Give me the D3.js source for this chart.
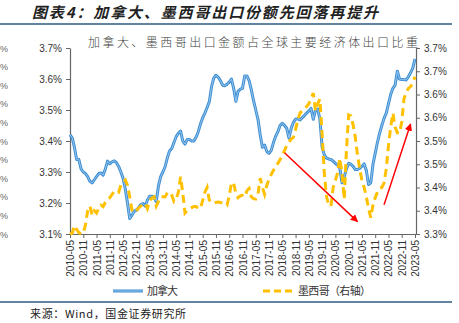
<!DOCTYPE html>
<html><head><meta charset="utf-8">
<script src="https://cdn.jsdelivr.net/npm/d3@7"></script>
<style>
html,body{margin:0;padding:0;background:#fff;}
svg{display:block;font-family:Arial,"Liberation Sans",sans-serif;}
.cjk{font-family:"Noto Sans CJK SC",sans-serif;}
</style></head><body>
<svg id="c" width="459" height="323"></svg>
<script>
// ---- data ----
const startYear = 2010, startMonth = 5, nMonths = 157;
const months = d3.range(nMonths).map(i => {
  const m = startMonth - 1 + i;
  return (startYear + Math.floor(m / 12)) + "-" + String(m % 12 + 1).padStart(2, "0");
});
const canada = [3.42,3.41,3.38,3.34,3.34,3.31,3.30,3.295,3.285,3.27,
3.265,3.275,3.285,3.295,3.297,3.29,3.31,3.335,3.326,3.333,
3.336,3.33,3.318,3.30,3.28,3.245,3.20,3.15,3.16,3.173,
3.177,3.185,3.195,3.198,3.19,3.21,3.222,3.222,3.219,3.205,
3.255,3.285,3.30,3.317,3.345,3.368,3.376,3.395,3.414,3.425,
3.432,3.40,3.39,3.405,3.405,3.40,3.40,3.412,3.43,3.455,
3.475,3.49,3.508,3.527,3.575,3.603,3.612,3.606,3.595,3.58,
3.578,3.583,3.59,3.60,3.57,3.528,3.56,3.567,3.57,3.61,
3.61,3.595,3.565,3.53,3.50,3.47,3.42,3.38,3.387,3.366,
3.36,3.37,3.395,3.415,3.43,3.45,3.457,3.45,3.441,3.41,
3.44,3.46,3.47,3.472,3.468,3.475,3.482,3.49,3.497,3.505,
3.47,3.50,3.503,3.47,3.38,3.355,3.345,3.342,3.34,3.335,
3.328,3.322,3.313,3.265,3.285,3.31,3.328,3.325,3.318,3.308,
3.308,3.312,3.318,3.326,3.305,3.26,3.265,3.325,3.36,3.395,
3.425,3.45,3.473,3.49,3.52,3.55,3.57,3.58,3.625,3.60,
3.598,3.598,3.597,3.607,3.62,3.635,3.665];
const mexico = [3.30,3.302,3.318,3.31,3.303,3.30,3.302,3.32,3.35,3.36,
3.34,3.35,3.345,3.355,3.362,3.359,3.368,3.375,3.378,3.385,
3.392,3.392,3.39,3.405,3.412,3.416,3.405,3.38,3.352,3.346,
3.35,3.356,3.36,3.363,3.366,3.355,3.372,3.377,3.38,3.36,
3.37,3.38,3.38,3.38,3.388,3.39,3.384,3.37,3.375,3.39,
3.423,3.388,3.345,3.35,3.354,3.357,3.359,3.359,3.355,3.355,
3.372,3.39,3.40,3.373,3.368,3.366,3.368,3.369,3.368,3.366,
3.364,3.362,3.382,3.41,3.41,3.386,3.378,3.382,3.383,3.38,
3.393,3.398,3.38,3.376,3.375,3.386,3.42,3.40,3.385,3.405,
3.418,3.428,3.437,3.445,3.452,3.46,3.468,3.48,3.49,3.498,
3.504,3.508,3.525,3.545,3.56,3.565,3.569,3.574,3.58,3.59,
3.603,3.565,3.58,3.59,3.515,3.43,3.38,3.362,3.36,3.40,
3.415,3.432,3.463,3.43,3.375,3.48,3.556,3.554,3.535,3.508,
3.47,3.44,3.415,3.40,3.38,3.355,3.335,3.362,3.378,3.39,
3.398,3.40,3.41,3.44,3.49,3.53,3.56,3.53,3.518,3.517,
3.541,3.59,3.605,3.613,3.617,3.625,3.638];
const leftTicks = [3.1,3.2,3.3,3.4,3.5,3.6,3.7];
const rightTicks = [3.30,3.35,3.40,3.45,3.50,3.55,3.60,3.65,3.70];
const rightTickLabels = ["3.3%","3.4%","3.4%","3.5%","3.5%","3.6%","3.6%","3.7%","3.7%"];
const xTickMonths = months.filter((m, i) => i % 6 === 0);
// arrows: [fromMonth, fromValue(left axis), toMonth, toValue]
const arrows = [["2018-06",3.362,"2021-03",3.14],["2022-03",3.194,"2023-03",3.455]];
const title = "图表4：加拿大、墨西哥出口份额先回落再提升";
const chartTitle = "加拿大、墨西哥出口金额占全球主要经济体出口比重";
const source = "来源：Wind，国金证券研究所";
const legendNames = ["加拿大","墨西哥（右轴）"];
const cutLabels = d3.range(11);

// ---- drawing ----
const svg = d3.select("#c");
const x = d3.scalePoint().domain(months).range([70, 415]);
const yL = d3.scaleLinear().domain([3.1, 3.7]).range([234, 48]);
const yR = d3.scaleLinear().domain([3.3, 3.7]).range([234, 48]);
const cutY = d3.scaleLinear().domain([0, 10]).range([48, 234]);

// remnants of a cut-off axis on the far left
svg.append("g").selectAll("text").data(cutLabels).join("text")
  .attr("x", 0).attr("y", d => cutY(d) + 3.5).attr("text-anchor","start")
  .attr("font-size", 9).attr("fill", "#666").text("%");

// header
svg.append("text").attr("class","cjk").attr("x", 32).attr("y", 18)
  .attr("font-size", 15).attr("font-weight", "bold").attr("font-style","italic")
  .attr("fill", "#222").attr("textLength", 346).attr("lengthAdjust","spacing").text(title);
svg.append("line").attr("x1",0).attr("x2",452).attr("y1",24).attr("y2",24)
  .attr("stroke","#2E5B84").attr("stroke-width",1.5);
svg.append("text").attr("class","cjk").attr("x", 88).attr("y", 47)
  .attr("font-size", 12).attr("font-weight", 300).attr("fill", "#444")
  .attr("textLength", 330).attr("lengthAdjust","spacing").text(chartTitle);

// axes
const fmt = d3.format(".1%");
const gL = svg.append("g").attr("transform","translate(70,0)")
  .call(d3.axisLeft(yL).tickValues(leftTicks).tickFormat(d => fmt(d/100)).tickSize(4).tickSizeOuter(0));
const gR = svg.append("g").attr("transform","translate(416,0)")
  .call(d3.axisRight(yR).tickValues(rightTicks).tickFormat((d,i) => rightTickLabels[i]).tickSize(4).tickSizeOuter(0));
const gB = svg.append("g").attr("transform","translate(0,234)")
  .call(d3.axisBottom(x).tickValues(xTickMonths).tickSize(4).tickSizeOuter(0));
gB.select(".domain").attr("d", "M70,0.5H416");
[gL, gR, gB].forEach(g => {
  g.select(".domain").attr("stroke","#666").attr("stroke-width",1.2);
  g.selectAll(".tick line").attr("stroke","#666");
  g.selectAll(".tick text").attr("font-size",10).attr("fill","#333").attr("font-family","Arial, 'Liberation Sans', sans-serif");
});
gL.selectAll(".tick text").attr("x",-8);
gR.selectAll(".tick text").attr("x",8);
gB.selectAll(".tick text").attr("transform","rotate(-90)").attr("text-anchor","end")
  .attr("x",-6).attr("y",0).attr("dy","0.35em");

// lines
const lineL = d3.line().x((d,i) => x(months[i])).y(d => yL(d)).curve(d3.curveLinear);
const lineR = d3.line().x((d,i) => x(months[i])).y(d => yR(d)).curve(d3.curveLinear);
svg.append("path").datum(canada).attr("d", lineL).attr("fill","none")
  .attr("stroke","#3F8FD2").attr("stroke-width",3).attr("stroke-linejoin","round");
svg.append("path").datum(canada).attr("d", lineL).attr("fill","none")
  .attr("stroke","#9DCBF0").attr("stroke-width",0.9).attr("stroke-linejoin","round");
svg.append("path").datum(mexico).attr("d", lineR).attr("fill","none")
  .attr("stroke","#FFC000").attr("stroke-width",3).attr("stroke-dasharray","8,5");

// arrows
const defs = svg.append("defs");
defs.append("marker").attr("id","ah").attr("viewBox","0 0 10 10").attr("refX",9).attr("refY",5)
  .attr("markerWidth",5).attr("markerHeight",5).attr("orient","auto")
  .append("path").attr("d","M0,0L10,5L0,10z").attr("fill","#FF0000");
svg.append("g").selectAll("line").data(arrows).join("line")
  .attr("x1", d => x(d[0])).attr("y1", d => yL(d[1]))
  .attr("x2", d => x(d[2])).attr("y2", d => yL(d[3]))
  .attr("stroke","#FF0000").attr("stroke-width",1.5).attr("marker-end","url(#ah)");

// legend
const lg = svg.append("g");
lg.append("line").attr("x1",113).attr("x2",143).attr("y1",291).attr("y2",291)
  .attr("stroke","#3F8FD2").attr("stroke-width",3);
lg.append("line").attr("x1",113).attr("x2",143).attr("y1",291).attr("y2",291)
  .attr("stroke","#9DCBF0").attr("stroke-width",0.9);
lg.append("text").attr("class","cjk").attr("x",147).attr("y",295).attr("font-size",11).attr("fill","#333")
  .attr("textLength",31).attr("lengthAdjust","spacing").text(legendNames[0]);
lg.append("line").attr("x1",263).attr("x2",292).attr("y1",291).attr("y2",291)
  .attr("stroke","#FFC000").attr("stroke-width",3).attr("stroke-dasharray","7,4");
lg.append("text").attr("class","cjk").attr("x",298).attr("y",295).attr("font-size",11).attr("fill","#333")
  .attr("textLength",73).attr("lengthAdjust","spacing").text(legendNames[1]);

// footer
svg.append("line").attr("x1",0).attr("x2",452).attr("y1",302).attr("y2",302)
  .attr("stroke","#2E5B84").attr("stroke-width",1.5);
svg.append("text").attr("class","cjk").attr("x",30).attr("y",318).attr("font-size",11).attr("fill","#222")
  .attr("textLength",156).attr("lengthAdjust","spacing").text(source);
</script>
</body></html>
